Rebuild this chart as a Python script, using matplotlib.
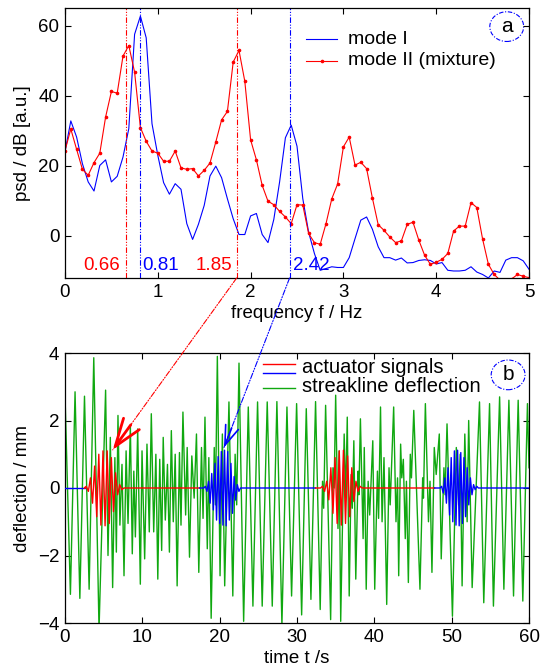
import numpy as np
import matplotlib
matplotlib.use("Agg")
import matplotlib.pyplot as plt
from matplotlib.patches import Ellipse, ConnectionPatch

plt.rcParams['font.family'] = ['Liberation Sans', 'DejaVu Sans']
plt.rcParams['font.size'] = 13.5

# ---------------- data: panel (a) power spectral density ----------------
freq_step = 0.0625
psd_mode1 = [24.0, 32.8, 28.2, 20.6, 15.4, 12.8, 20.1, 21.7, 15.4, 17.0,
             22.5, 30.6, 57.5, 62.7, 56.5, 32.0, 23.0, 15.2, 11.9, 14.9,
             13.3, 3.5, -1.0, 3.3, 8.7, 17.1, 19.9, 16.6, 10.6, 4.9,
             0.4, 0.4, 5.7, 6.4, 0.4, -1.9, 4.7, 15.4, 28.0, 31.6,
             25.6, 10.6, 1.1, -5.0, -9.8, -9.3, -8.8, -9.0, -9.0, -6.2,
             -0.8, 4.5, 5.4, 1.9, -3.1, -6.2, -6.2, -6.9, -6.3, -7.7,
             -7.6, -7.0, -6.8, -7.0, -8.0, -7.6, -9.8, -10.0, -10.0, -9.8,
             -8.8, -10.3, -11.0, -12.0, -10.0, -10.4, -6.9, -6.2, -6.2, -7.1,
             -9.5]
psd_mode2 = [24.3, 30.5, 24.7, 19.0, 17.3, 20.9, 23.6, 33.9, 41.2, 40.7,
             51.3, 54.3, 46.7, 30.9, 27.0, 24.2, 23.6, 21.3, 21.3, 24.2,
             19.4, 19.0, 19.2, 17.1, 18.7, 20.8, 26.8, 33.1, 35.5, 49.6,
             52.9, 44.1, 27.4, 21.7, 14.4, 9.9, 8.9, 7.0, 5.4, 3.5,
             8.9, 8.8, 0.7, -1.9, -2.4, 3.5, 10.6, 14.8, 25.4, 28.2,
             20.2, 21.0, 19.2, 10.8, 3.2, 1.6, -0.3, -1.9, -1.4, 3.3,
             3.9, -1.2, -5.5, -8.1, -7.5, -6.7, -5.0, 1.4, 2.8, 2.8,
             9.5, 8.1, -0.9, -8.1, -11.0, -12.6, -12.6, -12.3, -11.0, -11.5,
             -11.9]
peak_freqs = [0.66, 0.81, 1.85, 2.42]
peak_labels = ['0.66', '0.81', '1.85', '2.42']
peak_colors = ['red', 'blue', 'red', 'blue']

# ---------------- data: panel (b) time series ----------------
# streakline deflection: extrema (time / s, deflection / mm)
green_t = [0.0, 0.7, 1.3, 1.92, 2.52, 3.12, 3.72, 4.4, 5.25, 5.56,
           5.86, 6.16, 6.45, 6.64, 6.85, 7.1, 7.37, 7.63, 7.9, 8.15,
           8.45, 8.7, 8.9, 9.1, 9.4, 9.74, 9.96, 10.3, 10.6, 10.9,
           11.16, 11.47, 11.75, 12.0, 12.25, 12.5, 12.7, 12.97, 13.25, 13.5,
           13.75, 14.0, 14.25, 14.5, 14.8, 15.0, 15.25, 15.6, 15.8, 16.1,
           16.4, 16.7, 17.0, 17.3, 17.65, 17.85, 18.1, 18.4, 18.6, 18.9,
           19.3, 19.45, 19.7, 20.05, 20.35, 20.65, 21.2, 21.7, 22.0, 22.2,
           22.5, 23.1, 23.7, 24.3, 24.9, 25.5, 26.15, 26.8, 27.4, 28.05,
           28.7, 29.3, 29.95, 30.6, 31.2, 31.8, 32.4, 33.0, 33.3, 33.45,
           33.7, 34.35, 34.65, 34.8, 35.0, 35.3, 35.45, 35.65, 36.1, 36.3,
           36.5, 36.75, 37.0, 37.15, 37.35, 37.6, 37.9, 38.0, 38.2, 38.55,
           38.7, 38.95, 39.2, 39.4, 39.8, 40.05, 40.4, 40.55, 40.8, 41.0,
           41.25, 41.6, 41.9, 42.05, 42.5, 42.8, 43.0, 43.15, 43.4, 43.55,
           43.75, 44.0, 44.15, 44.4, 44.65, 44.8, 45.1, 45.9, 46.25, 46.35,
           46.6, 47.0, 47.2, 47.45, 47.75, 48.0, 48.4, 48.65, 49.0, 49.15,
           49.4, 50.1, 50.6, 50.9, 51.1, 51.35, 51.7, 52.0, 52.2, 52.65,
           53.6, 54.15, 54.9, 55.4, 56.2, 56.75, 57.4, 58.0, 58.6, 59.2,
           59.8, 60.0]
green_v = [2.75, -3.15, 2.85, -3.27, 2.72, -3.0, 3.86, -4.2, 2.9, -2.0,
           1.5, -2.95, 0.9, -1.9, 2.15, -1.1, 0.7, -2.6, 1.1, -1.05,
           1.85, -1.95, 0.5, -1.45, 1.75, -2.85, 1.1, -2.1, 1.3, -1.3,
           2.2, -1.3, 1.0, -2.7, 0.85, -1.85, 1.5, -0.95, 0.7, -1.9,
           1.7, -1.0, 1.0, -2.9, 1.05, -1.1, 2.25, -0.8, 1.2, -2.05,
           0.95, -0.3, 1.6, -2.5, 1.2, -0.9, 2.1, -1.8, 0.9, -3.86,
           1.2, -0.5, 3.9, -2.6, 1.6, -2.9, 2.55, -3.2, 1.0, -0.5,
           3.7, -3.95, 2.4, -3.5, 2.55, -3.5, 2.55, -3.5, 2.56, -4.05,
           2.4, -3.2, 2.5, -3.76, 2.35, -3.3, 2.56, -3.6, 0.2, -0.6,
           2.45, -3.9, 0.6, 0.0, 2.75, -1.2, 1.1, -3.95, 1.6, -0.3,
           2.1, -3.2, 0.4, -0.6, 1.4, -2.7, 0.5, -0.2, 2.05, -1.5,
           1.2, -3.0, 0.2, -0.8, 1.4, -3.0, 0.5, -0.9, 2.4, -1.0,
           0.9, -3.45, 0.6, -0.5, 2.4, -1.0, 0.3, -2.6, 1.3, 0.3,
           0.85, -1.5, 0.2, -2.8, 1.0, 0.3, 2.3, -3.0, 0.3, -0.3,
           2.5, -1.0, 0.2, -2.5, 1.2, 0.4, 1.6, -2.1, 0.6, -0.2,
           1.9, -3.8, 1.2, -0.5, 1.0, -2.9, 1.6, -1.0, 2.0, -2.95,
           2.55, -3.4, 2.5, -3.5, 2.7, -3.0, 2.6, -3.2, 2.6, -3.35,
           2.5, 0.6]

# actuator signals: colour segments and wave packets (extrema amplitudes)
act_edges = [0.0, 2.6, 17.4, 32.4, 47.8, 60.0]
act_colors = ['blue', 'red', 'blue', 'red', 'blue']
packet_start = [None, 2.75, 18.15, 33.3, 48.7]
packet_freq = [None, 1.85, 2.42, 1.85, 2.42]
packet_amps = [
    None,
    [0.05, -0.1, 0.3, -0.45, 0.65, -0.85, 1.0, -1.1, 1.1, -1.12, 1.1, -1.05,
     0.9, -0.7, 0.45, -0.2, 0.1, -0.05],
    [0.05, -0.1, 0.2, -0.45, 0.43, -0.65, 0.73, -0.95, 0.93, -1.05, 1.08, -1.1,
     1.12, -1.12, 1.08, -0.95, 0.73, -0.75, 0.34, -0.36, 0.1, -0.1],
    [0.05, -0.1, 0.2, -0.35, 0.6, -0.75, 0.9, -1.05, 1.1, -1.1, 1.12, -1.05,
     0.95, -0.85, 0.6, -0.4, 0.2, -0.1, 0.05],
    [0.05, -0.15, 0.3, -0.45, 0.6, -0.8, 0.9, -1.0, 1.1, -1.1, 1.12, -1.12,
     1.05, -1.05, 0.9, -0.85, 0.6, -0.5, 0.3, -0.2, 0.1, -0.05, 0.05],
]

GREEN = '#10a810'

# ---------------- figure ----------------
fig = plt.figure(figsize=(5.52, 6.67), dpi=100)
ax1 = fig.add_axes([65/552, 1-278/667, 464/552, 270/667])
ax2 = fig.add_axes([65/552, 1-623/667, 464/552, 270/667])

def matlab_style(ax):
    ax.tick_params(direction='in', top=True, right=True, length=4, width=0.8,
                   labelsize=13.5, pad=4)
    for s in ax.spines.values():
        s.set_linewidth(0.9)

# ---- panel a ----
f = np.arange(len(psd_mode1)) * freq_step
ax1.plot(f, psd_mode1, color='blue', lw=0.8)
ax1.plot(f, psd_mode2, color='red', lw=0.8, marker='.', ms=3.2)
dashdotdot = (0, (5, 1.5, 1, 1.5, 1, 1.5))
for pf, pc in zip(peak_freqs, peak_colors):
    ax1.axvline(pf, color=pc, lw=0.8, ls=dashdotdot)
label_offsets = [(-0.07, 'right'), (0.025, 'left'), (-0.05, 'right'), (0.035, 'left')]
for pf, pl, pc, (dx, ha) in zip(peak_freqs, peak_labels, peak_colors, label_offsets):
    ax1.text(pf + dx, -8.4, pl, color=pc, ha=ha, va='center', fontsize=13.5)
ax1.set_xlim(0, 5)
ax1.set_ylim(-12, 65)
ax1.set_xticks([0, 1, 2, 3, 4, 5])
ax1.set_yticks([0, 20, 40, 60])
ax1.set_xlabel('frequency f / Hz', labelpad=3)
ax1.set_ylabel('psd / dB [a.u.]', labelpad=5)
matlab_style(ax1)

# legend (a)
tr = ax1.transAxes
ax1.plot([0.52, 0.587], [0.885, 0.885], color='blue', lw=0.8, transform=tr)
ax1.plot([0.52, 0.587], [0.804, 0.804], color='red', lw=0.8, transform=tr)
ax1.plot([0.5535], [0.804], color='red', marker='.', ms=3.2, transform=tr)
ax1.text(0.609, 0.885, 'mode I', transform=tr, va='center', fontsize=14)
ax1.text(0.609, 0.804, 'mode II (mixture)', transform=tr, va='center', fontsize=14)
ax1.add_patch(Ellipse((0.952, 0.931), 0.073, 0.11, transform=tr, fill=False,
                      ec='blue', lw=0.8, ls=(0, (4, 1.5, 1, 1.5))))
ax1.text(0.952, 0.931, 'a', transform=tr, ha='center', va='center', fontsize=15)

# ---- panel b ----
ax2.plot(green_t, green_v, color=GREEN, lw=1.0, zorder=2)
for i, col in enumerate(act_colors):
    e0, e1 = act_edges[i], act_edges[i + 1]
    if packet_amps[i] is None:
        ax2.plot([e0, e1], [0, 0], color=col, lw=1.0, zorder=3)
        continue
    h = 0.5 / packet_freq[i]
    pt = packet_start[i] + np.arange(len(packet_amps[i])) * h
    ts = np.concatenate([[e0, pt[0] - h], pt, [pt[-1] + h, e1]])
    vs = np.concatenate([[0, 0], packet_amps[i], [0, 0]])
    ax2.plot(ts, vs, color=col, lw=1.0, zorder=3)
ax2.set_xlim(0, 60)
ax2.set_ylim(-4, 4)
ax2.set_xticks([0, 10, 20, 30, 40, 50, 60])
ax2.set_yticks([-4, -2, 0, 2, 4])
ax2.set_xlabel('time t /s', labelpad=3)
ax2.set_ylabel('deflection / mm', labelpad=5)
matlab_style(ax2)

# legend (b)
tr2 = ax2.transAxes
ax2.plot([0.426, 0.495], [0.958, 0.958], color='red', lw=1.0, transform=tr2)
ax2.plot([0.426, 0.495], [0.927, 0.927], color='blue', lw=1.0, transform=tr2)
ax2.plot([0.426, 0.495], [0.870, 0.870], color=GREEN, lw=1.0, transform=tr2)
ax2.text(0.51, 0.9456, 'actuator signals', transform=tr2, va='center', fontsize=14.5)
ax2.text(0.51, 0.875, 'streakline deflection', transform=tr2, va='center', fontsize=14.5)
ax2.add_patch(Ellipse((0.955, 0.919), 0.073, 0.11, transform=tr2, fill=False,
                      ec='blue', lw=0.8, ls=(0, (4, 1.5, 1, 1.5))))
ax2.text(0.955, 0.919, 'b', transform=tr2, ha='center', va='center', fontsize=15)

# connecting dash-dot lines with arrowheads
arrow_src = [(1.85, -12), (2.42, -12)]
arrow_tip = [(6.17, 1.13), (20.56, 1.2)]
arrow_cols = ['red', 'blue']
arrow_off = [(13, 18), (5.5, 14)]
arrow_lw = [2.0, 1.2]
arrow_scale = [20, 14]
for src, tip, col, off, lw, ms in zip(arrow_src, arrow_tip, arrow_cols, arrow_off,
                                      arrow_lw, arrow_scale):
    con = ConnectionPatch(xyA=src, coordsA=ax1.transData, xyB=tip, coordsB=ax2.transData,
                          color=col, lw=0.8, ls=dashdotdot)
    fig.add_artist(con)
    ax2.annotate('', xy=tip, xytext=off, textcoords='offset points',
                 arrowprops=dict(arrowstyle='->,head_length=1.0,head_width=0.35',
                                 color=col, lw=lw, mutation_scale=ms,
                                 shrinkA=0, shrinkB=0), zorder=5)

fig.savefig('out.png', dpi=100)
